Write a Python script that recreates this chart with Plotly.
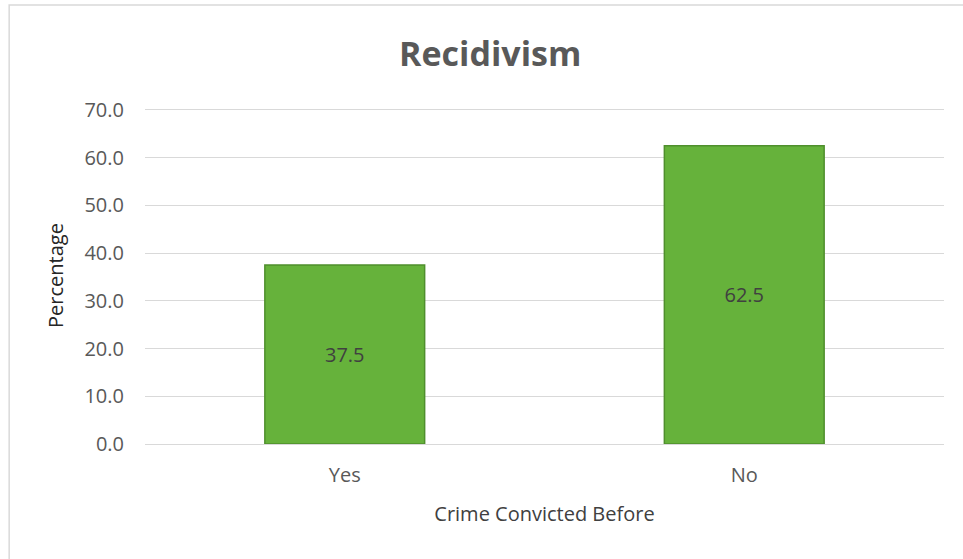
import plotly.graph_objects as go

categories = ["Yes", "No"]
values = [37.5, 62.5]
y_ticks = [0, 10, 20, 30, 40, 50, 60, 70]
y_tick_labels = [f"{v:.1f}" for v in y_ticks]

FONT = "Open Sans"
GRAY = "#595959"

fig = go.Figure()
fig.add_trace(go.Bar(
    x=categories,
    y=values,
    width=0.4,
    text=[f"{v:.1f}" for v in values],
    textposition="inside",
    insidetextanchor="middle",
    textfont=dict(family=FONT, size=20, color="#404040"),
    marker=dict(color="#66b23b", line=dict(color="#4f8f2d", width=1.5)),
    hoverinfo="skip",
))

fig.update_layout(
    width=963, height=559,
    margin=dict(l=145, r=19, t=107, b=115),
    paper_bgcolor="white", plot_bgcolor="white",
    showlegend=False,
    title=dict(text="<b>Recidivism</b>", x=0.432, xref="paper", xanchor="center",
               y=0.903, yanchor="middle",
               font=dict(family=FONT, size=34, color=GRAY)),
    font=dict(family=FONT, color=GRAY),
    xaxis=dict(
        title=dict(text="Crime Convicted Before", font=dict(size=20, color="#404040"), standoff=19),
        tickfont=dict(size=20, color=GRAY), ticklabelstandoff=17,
        showgrid=False, showline=False, zeroline=False, ticks="",
    ),
    yaxis=dict(
        title=dict(text="Percentage", font=dict(size=20, color="#262626"), standoff=15),
        range=[0, 70.6], tickvals=y_ticks, ticktext=y_tick_labels,
        tickfont=dict(size=20, color=GRAY), ticklabelstandoff=20,
        showgrid=True, gridcolor="#d9d9d9", gridwidth=1.2,
        zeroline=True, zerolinecolor="#d9d9d9", zerolinewidth=1.2,
        ticks="", showline=False,
    ),
    shapes=[dict(type="rect", xref="paper", yref="paper",
                 x0=-0.170, x1=1.2, y0=-0.8, y1=1.303,
                 line=dict(color="#d9d9d9", width=1.5), fillcolor="rgba(0,0,0,0)", layer="below")],
)

fig.write_html("out.html", config={"displayModeBar": False},
               post_script="document.body.style.margin='0';")
